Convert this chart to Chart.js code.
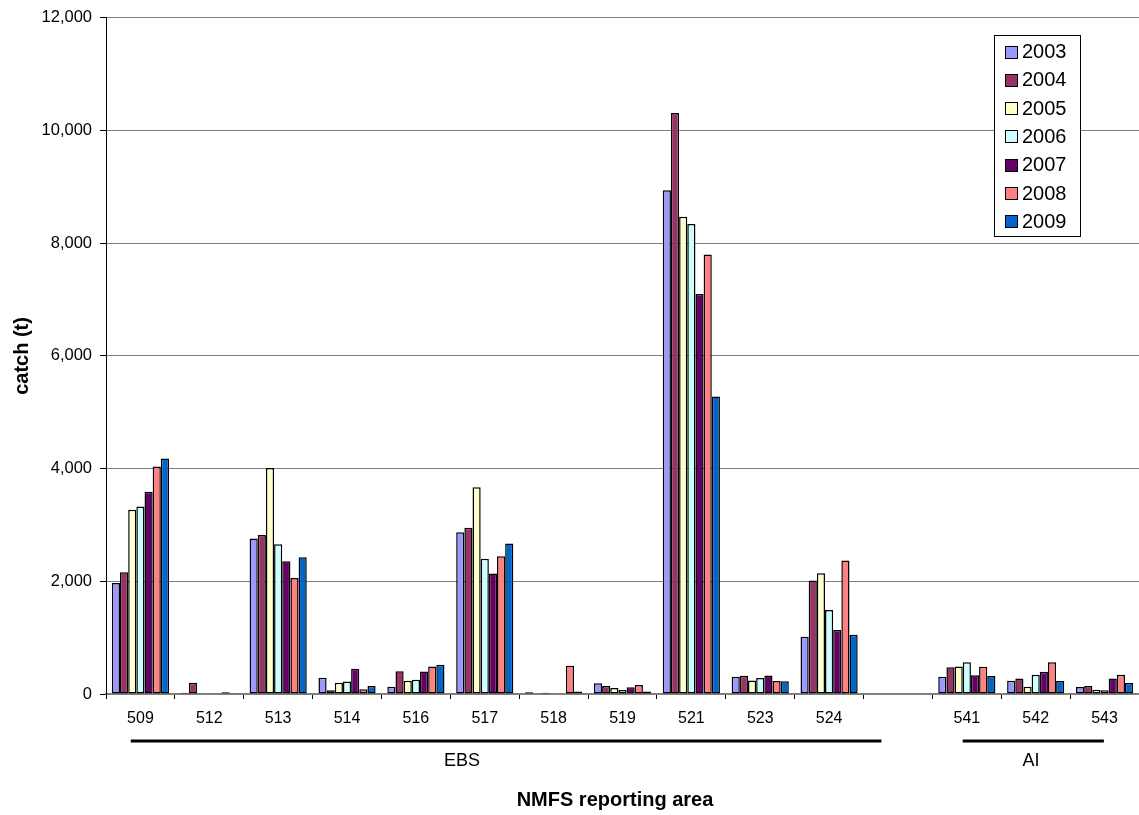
<!DOCTYPE html>
<html>
<head>
<meta charset="utf-8">
<script src="https://cdn.jsdelivr.net/npm/chart.js@4.4.0/dist/chart.umd.min.js"></script>
<style>
  html, body { margin: 0; padding: 0; background: #ffffff; }
  #wrap { width: 1139px; height: 815px; position: relative; }
</style>
</head>
<body>
<div id="wrap"><canvas id="c" width="1139" height="815"></canvas></div>
<script>
const categories = ['509','512','513','514','516','517','518','519','521','523','524','','541','542','543'];
const years = ['2003','2004','2005','2006','2007','2008','2009'];
const colors = ['#9999FF','#993366','#FFFFCC','#CCFFFF','#660066','#FF8080','#0066CC'];
const y2003 = [1970, 20, 2760, 290, 130, 2870, 30, 190, 8940, 305, 1015, null, 305, 235, 125];
const y2004 = [2160, 200, 2820, 65, 405, 2950, 10, 140, 10310, 325, 2015, null, 475, 275, 140];
const y2005 = [3270, 10, 4010, 200, 235, 3670, 20, 105, 8470, 240, 2145, null, 490, 130, 75];
const y2006 = [3330, 0, 2660, 220, 255, 2400, 10, 70, 8340, 285, 1490, null, 565, 340, 65];
const y2007 = [3590, 5, 2355, 450, 400, 2140, 0, 120, 7100, 330, 1135, null, 335, 395, 275];
const y2008 = [4040, 30, 2060, 85, 490, 2445, 500, 160, 7800, 230, 2370, null, 485, 565, 340];
const y2009 = [4180, 15, 2425, 140, 520, 2670, 45, 45, 5280, 225, 1050, null, 320, 230, 195];
const series = [y2003, y2004, y2005, y2006, y2007, y2008, y2009];
const yTicks = [0, 2000, 4000, 6000, 8000, 10000, 12000];
const groups = [
  { label: 'EBS', from: 0, to: 10 },
  { label: 'AI', from: 12, to: 14 }
];

const FONT = '"Liberation Sans", Arial, sans-serif';

const decor = {
  id: 'decor',
  afterDraw(chart) {
    const ctx = chart.ctx;
    const ca = chart.chartArea;
    const w = (ca.right - ca.left) / categories.length;
    const px = v => ca.left + v * w;
    ctx.save();
    ctx.strokeStyle = '#000';
    ctx.lineWidth = 3;
    ctx.fillStyle = '#000';
    ctx.textAlign = 'center';
    ctx.textBaseline = 'middle';
    ctx.font = '18px ' + FONT;
    const g0 = groups[0], g1 = groups[1];
    ctx.beginPath();
    ctx.moveTo(px(g0.from + 0.36), 741);
    ctx.lineTo(px(g0.to + 1.26), 741);
    ctx.stroke();
    ctx.fillText(g0.label, px(5.17), 761);
    ctx.beginPath();
    ctx.moveTo(px(g1.from + 0.44), 741);
    ctx.lineTo(px(g1.to + 0.49), 741);
    ctx.stroke();
    ctx.fillText(g1.label, px(13.43), 761);
    ctx.font = 'bold 20px ' + FONT;
    ctx.fillText('NMFS reporting area', 615, 800);
    ctx.save();
    ctx.translate(22, (ca.top + ca.bottom) / 2);
    ctx.rotate(-Math.PI / 2);
    ctx.fillText('catch (t)', 0, 0);
    ctx.restore();
    const lx = 994.5, ly = 35.5, lw = 86, lh = 201;
    ctx.fillStyle = '#fff';
    ctx.fillRect(lx, ly, lw, lh);
    ctx.strokeStyle = '#000';
    ctx.lineWidth = 1;
    ctx.strokeRect(lx, ly, lw, lh);
    ctx.font = '20px ' + FONT;
    ctx.textAlign = 'left';
    chart.data.datasets.forEach((ds, i) => {
      const cy = 51.5 + i * 28.3;
      ctx.fillStyle = ds.backgroundColor;
      ctx.fillRect(1005.5, Math.round(cy) - 6 + 0.5, 12, 12);
      ctx.strokeStyle = '#000';
      ctx.strokeRect(1005.5, Math.round(cy) - 6 + 0.5, 12, 12);
      ctx.fillStyle = '#000';
      ctx.fillText(ds.label, 1022, cy + 1);
    });
    ctx.restore();
  }
};

new Chart(document.getElementById('c'), {
  type: 'bar',
  data: {
    labels: categories,
    datasets: years.map((yr, i) => ({
      label: yr,
      data: series[i],
      backgroundColor: colors[i],
      borderColor: '#000000',
      borderWidth: 1.5,
      borderSkipped: false,
      categoryPercentage: 0.83,
      barPercentage: 1.0
    }))
  },
  options: {
    responsive: false,
    animation: false,
    devicePixelRatio: 1,
    layout: { padding: { top: 12, right: 0, bottom: 0, left: 0 } },
    plugins: {
      legend: { display: false },
      tooltip: { enabled: false },
      title: { display: false }
    },
    scales: {
      x: {
        type: 'category',
        offset: true,
        grid: {
          offset: true,
          drawOnChartArea: false,
          drawTicks: true,
          tickLength: 5,
          color: '#000000'
        },
        border: { display: true, color: '#808080', width: 2 },
        ticks: {
          color: '#000',
          font: { family: FONT, size: 16 },
          padding: 10,
          maxRotation: 0,
          autoSkip: false
        },
        afterFit(scale) { scale.height = 121; }
      },
      y: {
        min: 0,
        max: 12000,
        afterBuildTicks(scale) { scale.ticks = yTicks.map(v => ({ value: v })); },
        grid: {
          color: '#808080',
          lineWidth: 1,
          drawTicks: true,
          tickLength: 6,
          tickColor: '#000000'
        },
        border: { display: true, color: '#000000', width: 1 },
        ticks: {
          color: '#000',
          font: { family: FONT, size: 16.5 },
          padding: 8,
          callback: v => Number(v).toLocaleString('en-US')
        },
        afterFit(scale) { scale.width = 106; }
      }
    }
  },
  plugins: [decor]
});
</script>
</body>
</html>
